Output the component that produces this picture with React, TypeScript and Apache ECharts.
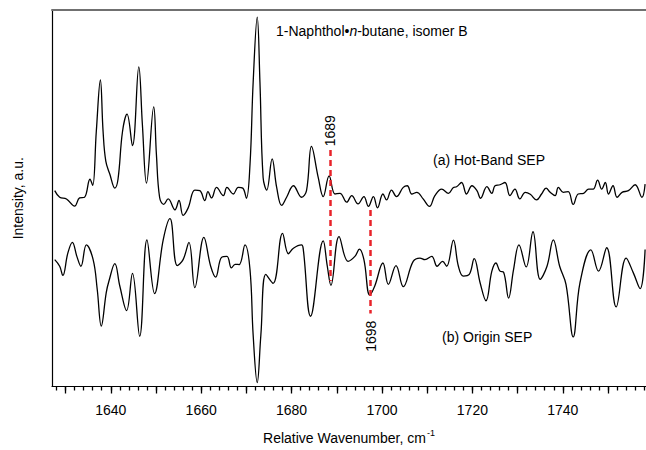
import React, { useEffect, useRef } from "react";
import * as echarts from "echarts";

// Wavenumber axis
const xMin = 1627;
const xMax = 1758.4;
const tickLabels = [1640, 1660, 1680, 1700, 1720, 1740];
const majorTicks = [1630, 1640, 1650, 1660, 1670, 1680, 1690, 1700, 1710, 1720, 1730, 1740, 1750];
const minorTicks = [
  1628, 1630, 1632, 1634, 1636, 1638, 1640, 1642, 1644, 1646, 1648, 1650, 1652, 1654, 1656, 1658,
  1660, 1662, 1664, 1666, 1668, 1670, 1672, 1674, 1676, 1678, 1680, 1682, 1684, 1686, 1688, 1690,
  1692, 1694, 1696, 1698, 1700, 1702, 1704, 1706, 1708, 1710, 1712, 1714, 1716, 1718, 1720, 1722,
  1724, 1726, 1728, 1730, 1732, 1734, 1736, 1738, 1740, 1742, 1744, 1746, 1748, 1750, 1752, 1754,
  1756, 1758,
];

// (a) Hot-Band SEP
const hotBandX = [
  1627.6, 1628.7, 1630.2, 1632.0, 1633.1, 1634.2, 1635.4, 1636.0, 1636.8, 1637.7, 1638.3, 1638.9,
  1639.8, 1640.9, 1641.6, 1642.6, 1643.6, 1644.8, 1646.2, 1647.0, 1647.9, 1649.5, 1650.1, 1650.8,
  1651.7, 1652.7, 1654.2, 1655.1, 1656.0, 1657.1, 1658.6, 1659.7, 1660.8, 1661.5, 1662.3, 1663.4,
  1664.9, 1665.7, 1667.1, 1668.2, 1669.2, 1670.0, 1670.8, 1671.5, 1672.4, 1673.0, 1673.7, 1674.5,
  1675.7, 1676.7, 1677.8, 1678.9, 1680.4, 1682.2, 1683.3, 1684.4, 1685.9, 1687.0, 1688.3, 1689.6,
  1690.7, 1692.2, 1693.3, 1694.7, 1696.0, 1697.0, 1698.1, 1699.0, 1700.2, 1701.0, 1702.1, 1703.2,
  1704.7, 1705.6, 1706.6, 1707.7, 1709.1, 1710.5, 1711.7, 1713.2, 1714.7, 1715.8, 1716.5, 1717.6,
  1718.7, 1719.9, 1721.0, 1721.8, 1723.2, 1724.3, 1725.0, 1726.1, 1727.2, 1728.3, 1729.4, 1730.5,
  1731.7, 1732.8, 1734.2, 1735.3, 1736.3, 1737.2, 1738.3, 1739.0, 1740.1, 1741.2, 1742.3, 1743.4,
  1744.6, 1745.7, 1746.7, 1747.7, 1748.6, 1749.4, 1750.1, 1751.1, 1752.0, 1753.1, 1754.5, 1756.0,
  1757.5, 1758.2,
];
const hotBandY = [
  198.7, 192, 190.3, 183, 191.3, 192, 210.3, 204, 258.7, 311, 258.7, 228.7,
  215.3, 201.3, 210.3, 258.7, 276.3, 244.3, 324.3, 265.3, 206.3, 283.7, 235.3, 192,
  184.7, 190.3, 179.3, 188.7, 173.7, 181, 199.3, 198.7, 188.7, 197.7, 191.3, 202,
  193.7, 202, 195.3, 202, 201.3, 191, 225.3, 308.7, 374.7, 308.7, 212, 199.3,
  231, 202, 183.7, 192, 203.7, 192, 198.7, 243.7, 212, 192.7, 213.7, 195.3,
  196, 187, 193.7, 185.3, 192.7, 182.7, 192.7, 181.3, 195.3, 189.3, 199.3, 192.7,
  202, 203.7, 195.3, 197, 190.3, 182.7, 193.7, 200.3, 196, 202, 202.7, 207,
  195.3, 203.7, 198.7, 191, 202.7, 196, 203.7, 204.7, 207, 193.7, 200.3, 190.3,
  197, 195, 189.3, 195.3, 201.3, 197, 193.7, 202, 197, 197.7, 184.7, 195.3,
  196, 200.3, 200.3, 209.3, 200.3, 207, 195.3, 203.7, 192, 197, 198.7, 204.7,
  192, 205.3,
];

// (b) Origin SEP
const originX = [
  1627.6, 1628.7, 1629.4, 1630.5, 1631.5, 1632.5, 1633.4, 1634.6, 1636.1, 1637.0, 1637.9, 1639.0,
  1639.6, 1640.9, 1642.0, 1643.5, 1644.8, 1646.4, 1648.0, 1649.7, 1651.6, 1653.1, 1654.7, 1656.0,
  1657.3, 1658.6, 1660.6, 1662.1, 1663.2, 1664.5, 1665.7, 1666.7, 1667.5, 1668.4, 1669.7, 1670.8,
  1671.5, 1672.4, 1673.2, 1674.3, 1675.9, 1678.0, 1679.3, 1680.4, 1682.2, 1682.6, 1684.2, 1687.0,
  1687.9, 1688.7, 1690.5, 1692.5, 1694.0, 1695.0, 1696.0, 1697.3, 1698.4, 1700.2, 1701.4, 1703.1,
  1704.7, 1706.9, 1708.4, 1709.5, 1711.0, 1712.2, 1713.4, 1714.3, 1715.8, 1716.9, 1718.0, 1719.3,
  1720.4, 1721.7, 1723.0, 1724.3, 1725.2, 1726.1, 1726.9, 1728.0, 1729.1, 1730.3, 1731.9, 1733.4,
  1735.0, 1736.5, 1737.9, 1739.3, 1740.7, 1742.3, 1743.8, 1746.2, 1747.9, 1749.7, 1751.8, 1754.0,
  1755.6, 1757.1, 1758.2,
];
const originY = [
  128.7, 122, 112.7, 135.3, 146.3, 132, 122, 143.7, 128.7, 98.7, 61.3, 95.3,
  107, 124.7, 102, 77, 114.7, 51, 148.7, 94.3, 148.7, 170.3, 122.7, 128.7,
  146.3, 100.3, 151.3, 122, 111, 131, 132, 120.3, 124, 123.7, 143.7, 118.7,
  52, 4, 52, 113.7, 104.7, 155.3, 134.7, 140.3, 143.7, 138.7, 71.3, 147.7,
  122, 102.7, 152, 127, 132, 139.3, 128.7, 92.7, 102, 125.3, 103.7, 122.7,
  101.3, 127, 130.3, 128.7, 132, 122, 127, 122, 148.5, 122, 112, 113.7,
  129.7, 105.3, 87, 117, 125.3, 117, 116, 89.7, 118.7, 143.7, 121.3, 157,
  108.7, 122, 148.7, 122, 103.7, 50.3, 105.3, 138.7, 117, 140.8, 80.7, 130.3,
  115.3, 99.3, 139,
];

// Marked bands
const markerLabels = ["1689", "1698"];
const markerX = [1688.6, 1697.5];
const markerTop = [240, 179];
const markerBottom = [107, 74];
const markerLabelY = [259.5, 51];

const FONT = "Liberation Sans, Arial, sans-serif";

export default function App() {
  const ref = useRef<HTMLDivElement>(null);

  useEffect(() => {
    if (!ref.current) return;
    const chart = echarts.init(ref.current, null, { renderer: "svg" });

    const hotBand = hotBandX.map((x, i) => [x, hotBandY[i]]);
    const origin = originX.map((x, i) => [x, originY[i]]);
    const markLines = markerX.map((x, i) => [
      { coord: [x, markerTop[i]] },
      { coord: [x, markerBottom[i]] },
    ]);
    const markerPts = markerX.map((x, i) => ({ value: [x, markerLabelY[i]], name: markerLabels[i] }));

    chart.setOption({
      animation: false,
      backgroundColor: "#fff",
      textStyle: { fontFamily: FONT },
      grid: { left: 52, right: 0, top: 10, bottom: 58 },
      title: [
        {
          text: "{r|1-Naphthol•}{i|n}{r|-butane, isomer B}",
          left: 276,
          top: 24,
          padding: 0,
          textStyle: {
            fontWeight: "normal",
            rich: {
              r: { fontFamily: FONT, fontSize: 14, color: "#000", fontWeight: "normal" },
              i: { fontFamily: FONT, fontSize: 14, color: "#000", fontStyle: "italic", fontWeight: "normal" },
            },
          },
        },
        {
          text: "(a) Hot-Band SEP",
          left: 433,
          top: 153,
          padding: 0,
          textStyle: { fontFamily: FONT, fontSize: 14, fontWeight: "normal", color: "#000" },
        },
        {
          text: "(b) Origin SEP",
          left: 442,
          top: 330,
          padding: 0,
          textStyle: { fontFamily: FONT, fontSize: 14, fontWeight: "normal", color: "#000" },
        },
      ],
      xAxis: [
        {
          type: "value",
          min: xMin,
          max: xMax,
          position: "bottom",
          axisLine: { show: true, onZero: false, lineStyle: { color: "#000", width: 1 } },
          axisTick: { show: true, customValues: majorTicks, length: 7, lineStyle: { color: "#000", width: 1.3 } },
          axisLabel: {
            customValues: tickLabels,
            margin: 16,
            fontSize: 14,
            color: "#000",
            fontFamily: FONT,
            formatter: (v: number) => String(v),
          },
          splitLine: { show: false },
          name: "{a|Relative Wavenumber, cm}{s|-1}",
          nameLocation: "middle",
          nameGap: 42,
          nameTextStyle: {
            rich: {
              a: { fontFamily: FONT, fontSize: 14, color: "#000" },
              s: { fontFamily: FONT, fontSize: 9, color: "#000", padding: [0, 0, 10, 1] },
            },
          },
        },
        {
          type: "value",
          min: xMin,
          max: xMax,
          position: "bottom",
          axisLine: { show: false, onZero: false },
          axisTick: { show: true, customValues: minorTicks, length: 4, lineStyle: { color: "#000", width: 1.3 } },
          axisLabel: { show: false },
          splitLine: { show: false },
        },
        {
          type: "value",
          min: xMin,
          max: xMax,
          position: "top",
          axisLine: { show: true, onZero: false, lineStyle: { color: "#707070", width: 2 } },
          axisTick: { show: false },
          axisLabel: { show: false },
          splitLine: { show: false },
        },
      ],
      yAxis: {
        type: "value",
        min: 0,
        max: 382,
        axisLine: { show: true, onZero: false, lineStyle: { color: "#000", width: 1.2 } },
        axisTick: { show: false },
        axisLabel: { show: false },
        splitLine: { show: false },
        name: "Intensity, a.u.",
        nameLocation: "middle",
        nameGap: 27,
        nameTextStyle: { fontFamily: FONT, fontSize: 14, color: "#000" },
      },
      series: [
        {
          type: "line",
          data: hotBand,
          smooth: 0.4,
          showSymbol: false,
          lineStyle: { color: "#000", width: 1.3 },
        },
        {
          type: "line",
          data: origin,
          smooth: 0.4,
          showSymbol: false,
          lineStyle: { color: "#000", width: 1.3 },
          markLine: {
            silent: true,
            symbol: ["none", "none"],
            label: { show: false },
            lineStyle: { color: "#e8232a", width: 2.5, type: [6, 4] },
            data: markLines,
          },
        },
        {
          type: "scatter",
          data: markerPts,
          symbolSize: 0,
          silent: true,
          itemStyle: { opacity: 0 },
          label: {
            show: true,
            position: "inside",
            rotate: 90,
            formatter: (p: any) => p.name,
            fontFamily: FONT,
            fontSize: 14,
            color: "#000",
            opacity: 1,
          },
        },
      ],
    });

    return () => chart.dispose();
  }, []);

  return (
    <div
      ref={ref}
      style={{ position: "fixed", left: 0, top: 0, width: 646, height: 450, background: "#fff" }}
    />
  );
}
